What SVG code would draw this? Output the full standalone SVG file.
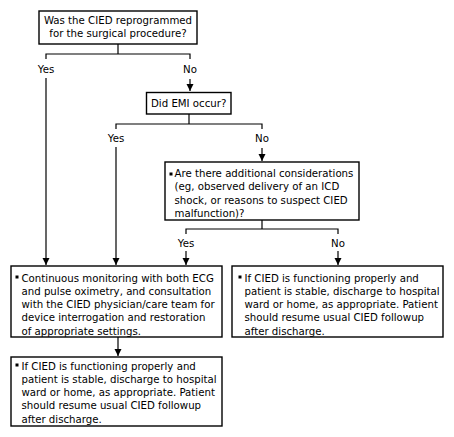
<svg xmlns="http://www.w3.org/2000/svg" width="454" height="437" viewBox="0 0 454 437">
<defs>
<style>
.box{fill:#fff;stroke:#000;stroke-width:1.4}
.ln{fill:none;stroke:#000;stroke-width:1.2}
text{font-family:"DejaVu Sans",Verdana,sans-serif;font-size:10.2px;fill:#000}
.c{text-anchor:middle}
.b{fill:#000}
</style>
<marker id="ah" markerWidth="8" markerHeight="8" refX="7" refY="4" orient="auto" markerUnits="userSpaceOnUse">
<path d="M0,0.5 L7,4 L0,7.5 Z" fill="#000"/>
</marker>
</defs>
<rect width="454" height="437" fill="#fff"/>
<g id="connectors">
<path class="ln" d="M118,44 V54 M46,59 V54 H190 V59"/>
<path class="ln" d="M46,78 V265" marker-end="url(#ah)"/>
<path class="ln" d="M190,79 V91" marker-end="url(#ah)"/>
<path class="ln" d="M189,114 V124 M116,129 V124 H262 V129"/>
<path class="ln" d="M116,147 V265" marker-end="url(#ah)"/>
<path class="ln" d="M262,148 V161" marker-end="url(#ah)"/>
<path class="ln" d="M262,220 V229 M186,234 V229 H338 V234"/>
<path class="ln" d="M186,251 V265" marker-end="url(#ah)"/>
<path class="ln" d="M338,251 V265" marker-end="url(#ah)"/>
<path class="ln" d="M118,337 V356" marker-end="url(#ah)"/>
<text class="c" x="46" y="72.5">Yes</text>
<text class="c" x="190" y="72.5">No</text>
<text class="c" x="116" y="141.5">Yes</text>
<text class="c" x="262" y="141.5">No</text>
<text class="c" x="186" y="246.5">Yes</text>
<text class="c" x="338" y="246.5">No</text>
</g>
<g id="q1">
<rect class="box" x="39" y="11" width="158" height="33"/>
<text class="c" x="118" y="24">Was the CIED reprogrammed</text>
<text class="c" x="118" y="37">for the surgical procedure?</text>
</g>
<g id="q2">
<rect class="box" x="146.5" y="92.5" width="84.5" height="21.5"/>
<text class="c" x="188.7" y="106.5">Did EMI occur?</text>
</g>
<g id="q3">
<rect class="box" x="165" y="162" width="194" height="58"/>
<rect class="b" x="169.5" y="172.5" width="3" height="3"/>
<text x="174.5" y="177">Are there additional considerations</text>
<text x="174.5" y="190.3">(eg, observed delivery of an ICD</text>
<text x="174.5" y="203.6">shock, or reasons to suspect CIED</text>
<text x="174.5" y="216.9">malfunction)?</text>
</g>
<g id="a1">
<rect class="box" x="11" y="266" width="211" height="71"/>
<rect class="b" x="15.5" y="275.5" width="3" height="3"/>
<text x="21.5" y="281.5">Continuous monitoring with both ECG</text>
<text x="21.5" y="294.8">and pulse oximetry, and consultation</text>
<text x="21.5" y="308.1">with the CIED physician/care team for</text>
<text x="21.5" y="321.4">device interrogation and restoration</text>
<text x="21.5" y="334.7">of appropriate settings.</text>
</g>
<g id="a2">
<rect class="box" x="232" y="266" width="211" height="71"/>
<rect class="b" x="238.5" y="275.5" width="3" height="3"/>
<text x="244.5" y="281.5">If CIED is functioning properly and</text>
<text x="244.5" y="294.8">patient is stable, discharge to hospital</text>
<text x="244.5" y="308.1">ward or home, as appropriate. Patient</text>
<text x="244.5" y="321.4">should resume usual CIED followup</text>
<text x="244.5" y="334.7">after discharge.</text>
</g>
<g id="a3">
<rect class="box" x="11" y="357" width="211" height="69"/>
<rect class="b" x="15.5" y="363.5" width="3" height="3"/>
<text x="21.5" y="369.5">If CIED is functioning properly and</text>
<text x="21.5" y="382.8">patient is stable, discharge to hospital</text>
<text x="21.5" y="396.1">ward or home, as appropriate. Patient</text>
<text x="21.5" y="409.4">should resume usual CIED followup</text>
<text x="21.5" y="422.7">after discharge.</text>
</g>
</svg>
